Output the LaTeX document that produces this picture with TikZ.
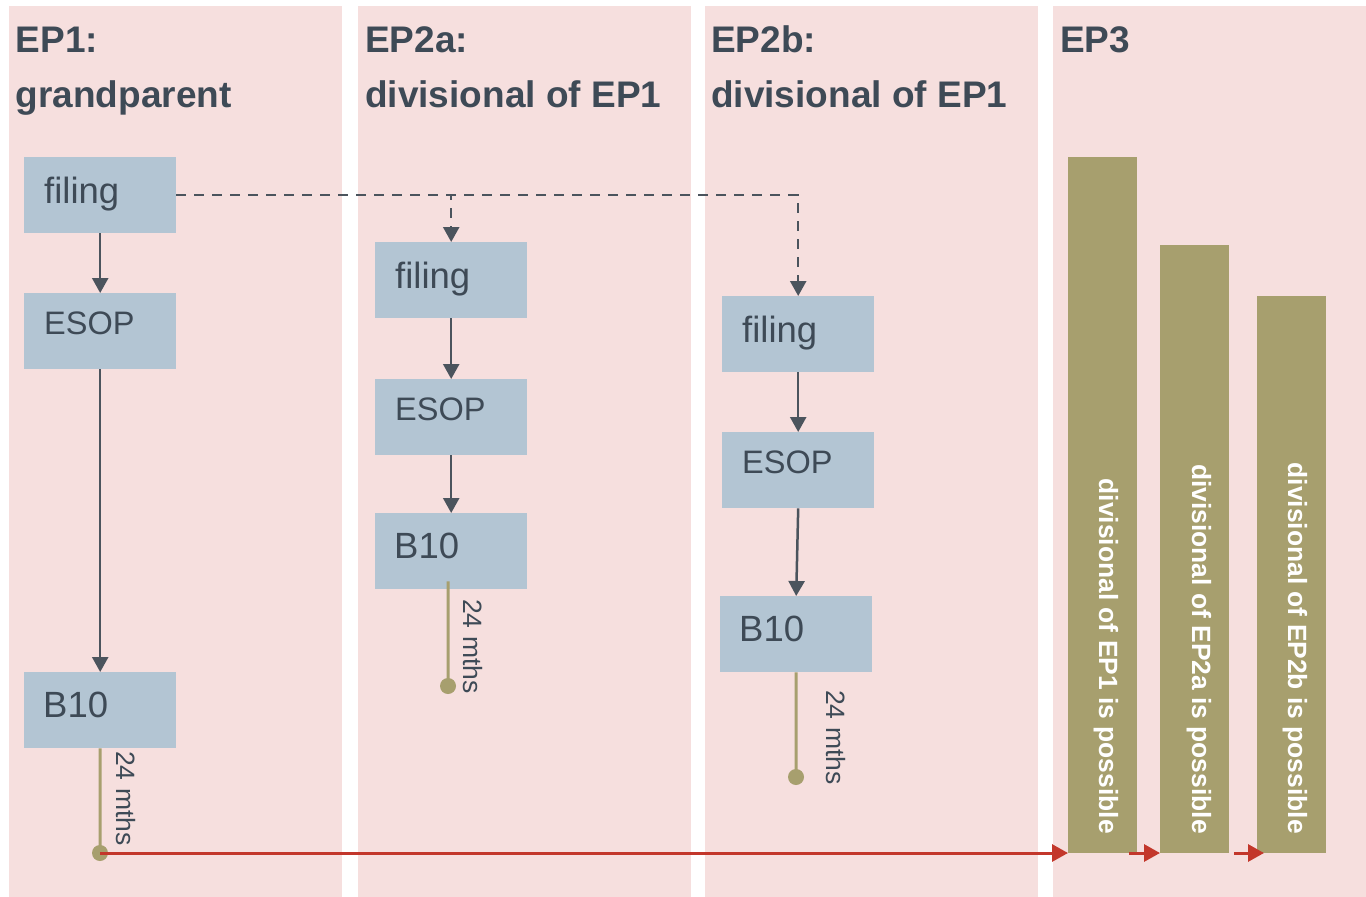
\documentclass[tikz,border=0pt]{standalone}
\usepackage{fontspec}
\setmainfont{Liberation Sans}
\usetikzlibrary{arrows.meta}

\definecolor{pinkbg}{HTML}{F6DFDE}
\definecolor{boxblue}{HTML}{B3C5D3}
\definecolor{barolive}{HTML}{A79F6E}
\definecolor{inkgray}{HTML}{3E4A56}
\definecolor{arrowgray}{HTML}{4B545D}
\definecolor{flowred}{HTML}{C3372B}

\tikzset{
  panel/.style={fill=pinkbg, draw=none, inner sep=0, minimum width=333, minimum height=891, anchor=north west},
  title/.style={text=inkgray, font=\fontsize{37}{45}\selectfont\bfseries, inner sep=0, anchor=base west},
  stagebox/.style={fill=boxblue, draw=none, minimum width=152, minimum height=76, inner sep=0, anchor=north west},
  stagetxt/.style={text=inkgray, inner sep=0, anchor=base west},
  bigtxt/.style={stagetxt, font=\fontsize{36.5}{44}\selectfont},
  esoptxt/.style={stagetxt, font=\fontsize{32.5}{39}\selectfont},
  flow/.style={draw=arrowgray, line width=2.5pt, -{Triangle[width=16pt,length=15pt]}},
  dashflow/.style={flow, dash pattern=on 10pt off 8pt},
  term/.style={draw=barolive, line width=3pt},
  termdot/.style={circle, fill=barolive, minimum size=16, inner sep=0},
  mths/.style={text=inkgray, font=\fontsize{26.5}{31}\selectfont, inner sep=0, rotate=-90, anchor=base west},
  bar/.style={fill=barolive, draw=none, minimum width=69, inner sep=0, anchor=south west},
  bartxt/.style={text=white, font=\fontsize{26.4}{32}\selectfont\bfseries, inner sep=0, rotate=-90, anchor=base east},
  redflow/.style={draw=flowred, line width=3pt, -{Triangle[width=17pt,length=16pt]}},
}

\begin{document}
\begin{tikzpicture}[x=1pt,y=-1pt]
\useasboundingbox (0,0) rectangle (1366,897);

% background columns
\node[panel] (p1) at (9,6) {};
\node[panel] (p2) at (358,6) {};
\node[panel] (p3) at (705,6) {};
\node[panel, minimum width=313] (p4) at (1053,6) {};

% column headings
\node[title] (t1a) at (15.5,52) {EP1:};
\node[title] (t1b) at (15.5,107) {grandparent};
\node[title] (t2a) at (365,52) {EP2a:};
\node[title] (t2b) at (365,107) {divisional of EP1};
\node[title] (t3a) at (711,52) {EP2b:};
\node[title] (t3b) at (711,107) {divisional of EP1};
\node[title] (t4a) at (1060,52) {EP3};

% EP1 stages
\node[stagebox] (f1) at (24,157) {};
\node[stagebox] (e1) at (24,293) {};
\node[stagebox] (b1) at (24,672) {};
\node[bigtxt]  (f1t) at ([xshift=20,yshift=-46]f1.north west) {filing};
\node[esoptxt] (e1t) at ([xshift=20,yshift=-41]e1.north west) {ESOP};
\node[bigtxt]  (b1t) at ([xshift=19,yshift=-45]b1.north west) {B10};

% EP2a stages
\node[stagebox] (f2) at (375,242) {};
\node[stagebox] (e2) at (375,379) {};
\node[stagebox] (b2) at (375,513) {};
\node[bigtxt]  (f2t) at ([xshift=20,yshift=-46]f2.north west) {filing};
\node[esoptxt] (e2t) at ([xshift=20,yshift=-41]e2.north west) {ESOP};
\node[bigtxt]  (b2t) at ([xshift=19,yshift=-45]b2.north west) {B10};

% EP2b stages
\node[stagebox] (f3) at (722,296) {};
\node[stagebox] (e3) at (722,432) {};
\node[stagebox] (b3) at (720,596) {};
\node[bigtxt]  (f3t) at ([xshift=20,yshift=-46]f3.north west) {filing};
\node[esoptxt] (e3t) at ([xshift=20,yshift=-41]e3.north west) {ESOP};
\node[bigtxt]  (b3t) at ([xshift=19,yshift=-45]b3.north west) {B10};

% procedural steps
\draw[flow] (f1.south) -- (e1.north);
\draw[flow] (e1.south) -- (b1.north);
\draw[flow] (f2.south) -- (e2.north);
\draw[flow] (e2.south) -- (b2.north);
\draw[flow] (f3.south) -- (e3.north);
\draw[flow] (e3.south) -- (b3.north);

% divisionals filed from the grandparent
\draw[dashflow] (f1.east) -| (f2.north);
\draw[dashflow] (f1.east) -| (f3.north);

% 24-month periods after B10
\coordinate (d1) at (100,853);
\coordinate (d2) at (448,686);
\coordinate (d3) at (796,777);
\coordinate (s2) at ([xshift=-3,yshift=8]b2.south);
\draw[term] (b1.south) -- (d1);
\draw[term] (s2) -- (d2);
\draw[term] (b3.south) -- (d3);
\node[termdot] (d1dot) at (d1) {};
\node[termdot] (d2dot) at (d2) {};
\node[termdot] (d3dot) at (d3) {};
\node[mths] (m1) at (116,751) {24 mths};
\node[mths] (m2) at (463,599) {24 mths};
\node[mths] (m3) at (826,690) {24 mths};

% EP3 possibilities
\node[bar, minimum height=696] (bar1) at (1068,853) {};
\node[bar, minimum height=608] (bar2) at (1160,853) {};
\node[bar, minimum height=557] (bar3) at (1257,853) {};
\node[bartxt] (bt1) at (1099,834) {divisional of EP1 is possible};
\node[bartxt] (bt2) at (1192,834) {divisional of EP2a is possible};
\node[bartxt] (bt3) at (1288,834) {divisional of EP2b is possible};

% timeline to EP3
\coordinate (r2) at (1129,853);
\coordinate (r3) at (1234,853);
\coordinate (r3tip) at ([xshift=7]bar3.south west);
\draw[redflow] (d1dot.center) -- (bar1.south west);
\draw[redflow] (r2) -- (bar2.south west);
\draw[redflow] (r3) -- (r3tip);
\end{tikzpicture}
\end{document}
